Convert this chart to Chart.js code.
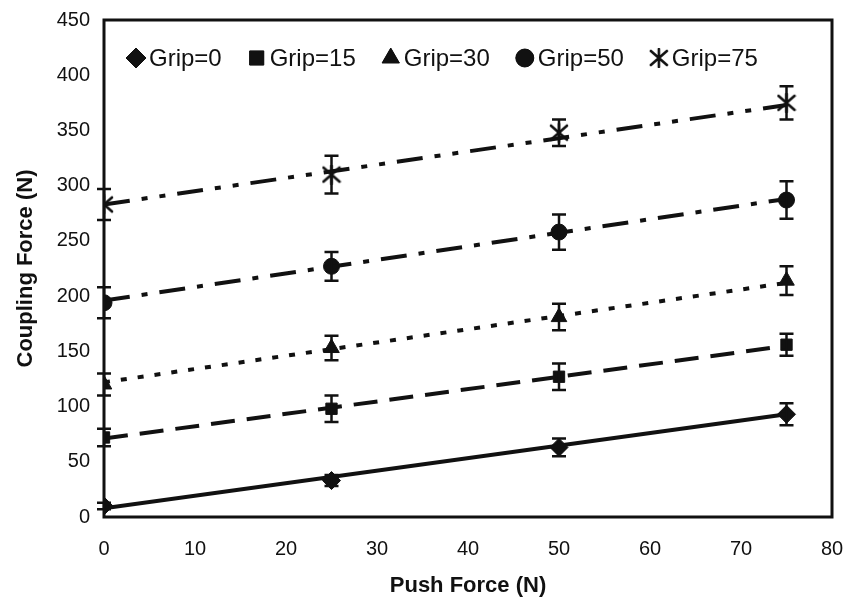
<!DOCTYPE html>
<html>
<head>
<meta charset="utf-8">
<script src="https://cdn.jsdelivr.net/npm/chart.js@4.4.1/dist/chart.umd.min.js"></script>
<style>
  body { margin: 0; background: #fff; }
  #wrap { width: 845px; height: 603px; }
</style>
</head>
<body>
<div id="wrap"><canvas id="chart" width="845" height="603"></canvas></div>
<script>
// push force values (x)
var pushForce = [0, 25, 50, 75];

var names = ['Grip=0', 'Grip=15', 'Grip=30', 'Grip=50', 'Grip=75'];

// mean coupling force per grip level
var grip0  = [10, 33, 63, 93];
var grip15 = [72, 98, 127, 156];
var grip30 = [120, 153, 181, 214];
var grip50 = [194, 227, 258, 287];
var grip75 = [283, 310, 348, 375];

// error bar half-heights
var err0  = [3, 5, 8, 10];
var err15 = [8, 12, 12, 10];
var err30 = [10, 11, 12, 13];
var err50 = [14, 13, 16, 17];
var err75 = [14, 17, 12, 15];

// trend line values at x = 0 and x = 75
var trendX = [0, 75];
var trend0  = [8, 93];
var trend15 = [71, 155];
var trend30 = [122, 212];
var trend50 = [196, 288];
var trend75 = [283, 373];

// asterisk-like marker: an X with a vertical stroke
function makeStar(size) {
  var c = document.createElement('canvas');
  c.width = size; c.height = size;
  var g = c.getContext('2d');
  g.strokeStyle = '#111';
  g.lineWidth = 2.6;
  g.lineCap = 'round';
  var m = 2, s = size - 2;
  g.beginPath();
  g.moveTo(m, m + 1); g.lineTo(s, s - 1);
  g.moveTo(s, m + 1); g.lineTo(m, s - 1);
  g.moveTo(size / 2, 1); g.lineTo(size / 2, size - 1);
  g.stroke();
  return c;
}
var starImg = makeStar(20);

var means = [grip0, grip15, grip30, grip50, grip75];
var errs = [err0, err15, err30, err50, err75];
var trends = [trend0, trend15, trend30, trend50, trend75];
var markers = ['rectRot', 'rect', 'triangle', 'circle', starImg];
var markerSize = [9, 8, 9, 8, 9];
var dashes = [[], [24, 12], [6, 11], [26, 12, 6, 12], [26, 12, 6, 12, 6, 12]];

var datasets = [];
for (var i = 0; i < names.length; i++) {
  datasets.push({
    label: names[i] + ' trend',
    data: trendX.map(function (x, j) { return { x: x, y: trends[i][j] }; }),
    showLine: true,
    borderColor: '#111',
    borderWidth: 4,
    borderDash: dashes[i],
    pointRadius: 0,
    fill: false
  });
}
for (var i = 0; i < names.length; i++) {
  datasets.push({
    label: names[i],
    data: pushForce.map(function (x, j) { return { x: x, y: means[i][j] }; }),
    errs: errs[i],
    showLine: false,
    pointStyle: markers[i],
    pointRadius: markerSize[i],
    backgroundColor: '#111',
    borderColor: '#111',
    borderWidth: 1
  });
}

var errorBars = {
  id: 'errorBars',
  afterDatasetsDraw: function (chart) {
    var ctx = chart.ctx;
    var yScale = chart.scales.y;
    ctx.save();
    ctx.strokeStyle = '#111';
    ctx.lineWidth = 2.5;
    chart.data.datasets.forEach(function (ds, di) {
      if (!ds.errs) return;
      var meta = chart.getDatasetMeta(di);
      meta.data.forEach(function (pt, k) {
        var v = ds.data[k].y;
        var top = yScale.getPixelForValue(v + ds.errs[k]);
        var bot = yScale.getPixelForValue(v - ds.errs[k]);
        ctx.beginPath();
        ctx.moveTo(pt.x, top); ctx.lineTo(pt.x, bot);
        ctx.moveTo(pt.x - 7, top); ctx.lineTo(pt.x + 7, top);
        ctx.moveTo(pt.x - 7, bot); ctx.lineTo(pt.x + 7, bot);
        ctx.stroke();
      });
    });
    ctx.restore();
  }
};

// one-row legend inside the plot, like the original
var rowLegend = {
  id: 'rowLegend',
  afterDraw: function (chart) {
    var ctx = chart.ctx;
    var a = chart.chartArea;
    ctx.save();
    ctx.font = '24px "Liberation Sans", Arial, sans-serif';
    ctx.textBaseline = 'middle';
    ctx.fillStyle = '#111';
    ctx.strokeStyle = '#111';
    var items = chart.data.datasets.filter(function (d) { return d.errs; });
    var x = a.left + 32;
    var y = a.top + 38;
    items.forEach(function (d, n) {
      var r = [10, 10, 10, 9, 10][n];
      ctx.lineWidth = 1;
      Chart.helpers.drawPoint(ctx, { pointStyle: d.pointStyle, radius: r, rotation: 0, borderWidth: 1 }, x, y);
      if (typeof d.pointStyle === 'string') ctx.fill();
      var tx = x + 13;
      ctx.fillText(d.label, tx, y + 1);
      x = tx + ctx.measureText(d.label).width + 35;
    });
    ctx.restore();
  }
};

var frame = {
  id: 'frame',
  afterDraw: function (chart) {
    var a = chart.chartArea;
    var ctx = chart.ctx;
    ctx.save();
    ctx.strokeStyle = '#111';
    ctx.lineWidth = 3;
    ctx.strokeRect(a.left, a.top, a.right - a.left, a.bottom - a.top);
    ctx.restore();
  }
};

Chart.defaults.font.family = '"Liberation Sans", Arial, sans-serif';
Chart.defaults.color = '#111';

new Chart(document.getElementById('chart').getContext('2d'), {
  type: 'scatter',
  data: { datasets: datasets },
  options: {
    responsive: false,
    animation: false,
    layout: { padding: { top: 20, right: 13, left: 9, bottom: 0 } },
    plugins: {
      tooltip: { enabled: false },
      legend: { display: false }
    },
    scales: {
      x: {
        type: 'linear',
        min: 0, max: 80,
        ticks: { stepSize: 10, font: { size: 20 }, padding: 20 },
        grid: { display: false, drawTicks: false },
        border: { display: false },
        title: { display: true, text: 'Push Force (N)', font: { size: 22, weight: 'bold' }, padding: { top: 10 } },
        afterFit: function (s) { s.height = 86; s.paddingRight = 0; s.paddingLeft = 0; }
      },
      y: {
        min: 0, max: 450,
        ticks: { stepSize: 50, font: { size: 20 }, padding: 14 },
        grid: { drawOnChartArea: false, drawTicks: false },
        border: { display: false },
        title: { display: true, text: 'Coupling Force (N)', font: { size: 22, weight: 'bold' }, padding: { bottom: 4 } },
        afterFit: function (s) { s.width = 95; s.paddingTop = 0; s.paddingBottom = 0; }
      }
    }
  },
  plugins: [errorBars, frame, rowLegend]
});
</script>
</body>
</html>
